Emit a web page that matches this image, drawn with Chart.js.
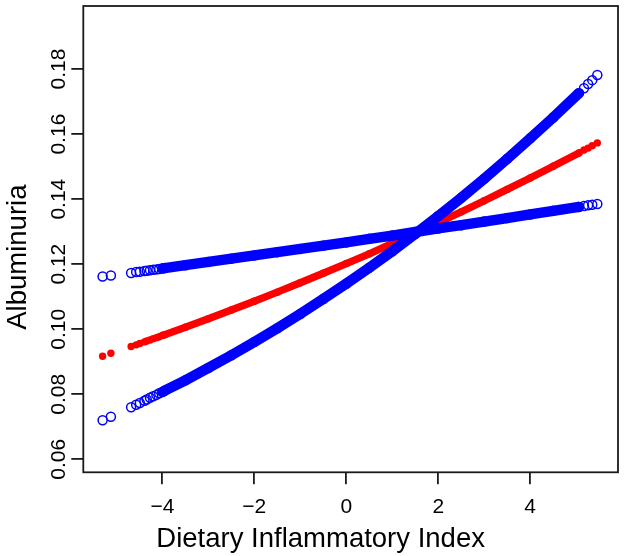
<!DOCTYPE html>
<html><head><meta charset="utf-8">
<script src="https://cdn.jsdelivr.net/npm/chart.js@4/dist/chart.umd.min.js"></script>
<style>html,body{margin:0;padding:0;background:#fff;}#wrap{width:624px;height:556px;position:relative;}</style>
</head><body><div id="wrap"><canvas id="c"></canvas></div>
<script>
// Dietary Inflammatory Index values (x)
const dii = [-5.30,-5.12,-4.68,-4.57,-4.49,-4.39,-4.34,-4.27,-4.20,-4.13,-4.07,-4.00,-3.95,-3.5,-3.0,-2.5,-2.0,-1.5,-1.0,-0.5,0,0.5,1.0,1.5,2.0,2.5,3.0,3.5,4.0,4.5,5.06,5.17,5.26,5.35,5.46];
// steep blue curve (open circles)
const blueSteep = [0.0720,0.0731,0.0760,0.0768,0.0773,0.0780,0.0784,0.0789,0.0794,0.0798,0.0803,0.0807,0.0811,0.0843,0.0881,0.0920,0.0961,0.1003,0.1047,0.1093,0.1140,0.1189,0.1240,0.1293,0.1348,0.1404,0.1463,0.1524,0.1587,0.1651,0.1726,0.1741,0.1754,0.1766,0.1782];
// flat blue curve (open circles)
const blueFlat = [0.1162,0.1165,0.1173,0.1176,0.1177,0.1179,0.1180,0.1181,0.1183,0.1184,0.1185,0.1187,0.1188,0.1197,0.1207,0.1217,0.1227,0.1237,0.1247,0.1257,0.1267,0.1278,0.1288,0.1299,0.1310,0.1320,0.1331,0.1342,0.1353,0.1364,0.1376,0.1379,0.1381,0.1383,0.1385];
// red fitted curve (filled dots)
const redFit = [0.0917,0.0926,0.0947,0.0952,0.0956,0.0961,0.0964,0.0967,0.0971,0.0974,0.0977,0.0981,0.0983,0.1006,0.1032,0.1059,0.1086,0.1114,0.1143,0.1172,0.1202,0.1232,0.1264,0.1295,0.1328,0.1361,0.1395,0.1430,0.1465,0.1501,0.1542,0.1551,0.1557,0.1564,0.1573];
const xTickValues = [-4,-2,0,2,4];
const yTickValues = [0.06,0.08,0.10,0.12,0.14,0.16,0.18];
const xTitle = 'Dietary Inflammatory Index';
const yTitle = 'Albuminuria';
// range of x where observations are dense enough to form a solid band
const bandStart = -4.0, bandEnd = 5.06;

const FONT = "'Liberation Sans', Arial, Helvetica, sans-serif";
const BLUE = '#0000FF', RED = '#FF0000', INK = '#1a1a1a';
function pts(ys){ return dii.map((x,i)=>({x:x, y:ys[i]})); }
function bandSeg(color){
  return { borderColor: ctx => (ctx.p0.parsed.x >= bandStart-1e-9 && ctx.p1.parsed.x <= bandEnd+1e-9) ? color : 'rgba(0,0,0,0)' };
}
const framePlugin = { id:'frame', afterDatasetsDraw(chart){
  const {ctx, chartArea:a} = chart; ctx.save(); ctx.strokeStyle = INK; ctx.lineWidth = 1.8;
  ctx.strokeRect(a.left, a.top, a.right-a.left, a.bottom-a.top); ctx.restore(); } };
const titlesPlugin = { id:'titles', afterDraw(chart){
  const {ctx, chartArea:a} = chart; ctx.save(); ctx.font = '27.5px ' + FONT; ctx.fillStyle = '#000';
  ctx.textAlign = 'center'; ctx.textBaseline = 'alphabetic';
  ctx.fillText(xTitle, (a.left+a.right)/2 - 30, chart.height - 9);
  ctx.translate(26, (a.top+a.bottom)/2 + 18); ctx.rotate(-Math.PI/2);
  ctx.fillText(yTitle, 0, 0);
  ctx.restore(); } };

Chart.defaults.color = '#000';
Chart.defaults.font.family = FONT;

new Chart(document.getElementById('c'), {
  type: 'scatter',
  data: { datasets: [
    { label:'steep', data: pts(blueSteep), showLine:true, borderWidth:10.4, borderCapStyle:'round', segment: bandSeg(BLUE),
      pointStyle:'circle', pointRadius:4.5, pointBorderWidth:1.5, pointBorderColor:BLUE, pointBackgroundColor:'rgba(0,0,0,0)', borderColor:BLUE },
    { label:'flat', data: pts(blueFlat), showLine:true, borderWidth:10.4, borderCapStyle:'round', segment: bandSeg(BLUE),
      pointStyle:'circle', pointRadius:4.5, pointBorderWidth:1.5, pointBorderColor:BLUE, pointBackgroundColor:'rgba(0,0,0,0)', borderColor:BLUE },
    { label:'fit', data: pts(redFit), showLine:true, borderWidth:7.4, borderCapStyle:'round', segment: bandSeg(RED),
      pointStyle:'circle', pointRadius:3.7, pointBorderWidth:0, pointBackgroundColor:RED, borderColor:RED }
  ]},
  options: {
    responsive:true, maintainAspectRatio:false, animation:false,
    layout:{ padding:{ top:5, right:5, left:0, bottom:0 } },
    plugins:{ legend:{display:false}, tooltip:{enabled:false} },
    scales:{
      x:{ type:'linear', min:-5.72, max:5.91,
        border:{display:false},
        grid:{ display:true, drawOnChartArea:false, drawTicks:true, tickLength:12, color:INK, lineWidth:1.8 },
        afterBuildTicks: s => { s.ticks = xTickValues.map(v=>({value:v})); },
        afterFit: s => { s.height = 83.7; },
        ticks:{ autoSkip:false, maxRotation:0, padding:10, font:{size:21, family:FONT}, color:'#000',
          callback: v => (v<0 ? '\u2212' : '') + Math.abs(v) },
        title:{ display:false }
      },
      y:{ type:'linear', min:0.056, max:0.1994,
        border:{display:false},
        grid:{ display:true, drawOnChartArea:false, drawTicks:true, tickLength:12, color:INK, lineWidth:1.8 },
        afterBuildTicks: s => { s.ticks = yTickValues.map(v=>({value:v})); },
        afterFit: s => { s.width = 83.3; },
        ticks:{ autoSkip:false, minRotation:90, maxRotation:90, crossAlign:'center', padding:-8.5,
          font:{size:21, family:FONT}, color:'#000', callback: v => Number(v).toFixed(2) },
        title:{ display:false }
      }
    }
  },
  plugins:[framePlugin, titlesPlugin]
});
</script></body></html>
